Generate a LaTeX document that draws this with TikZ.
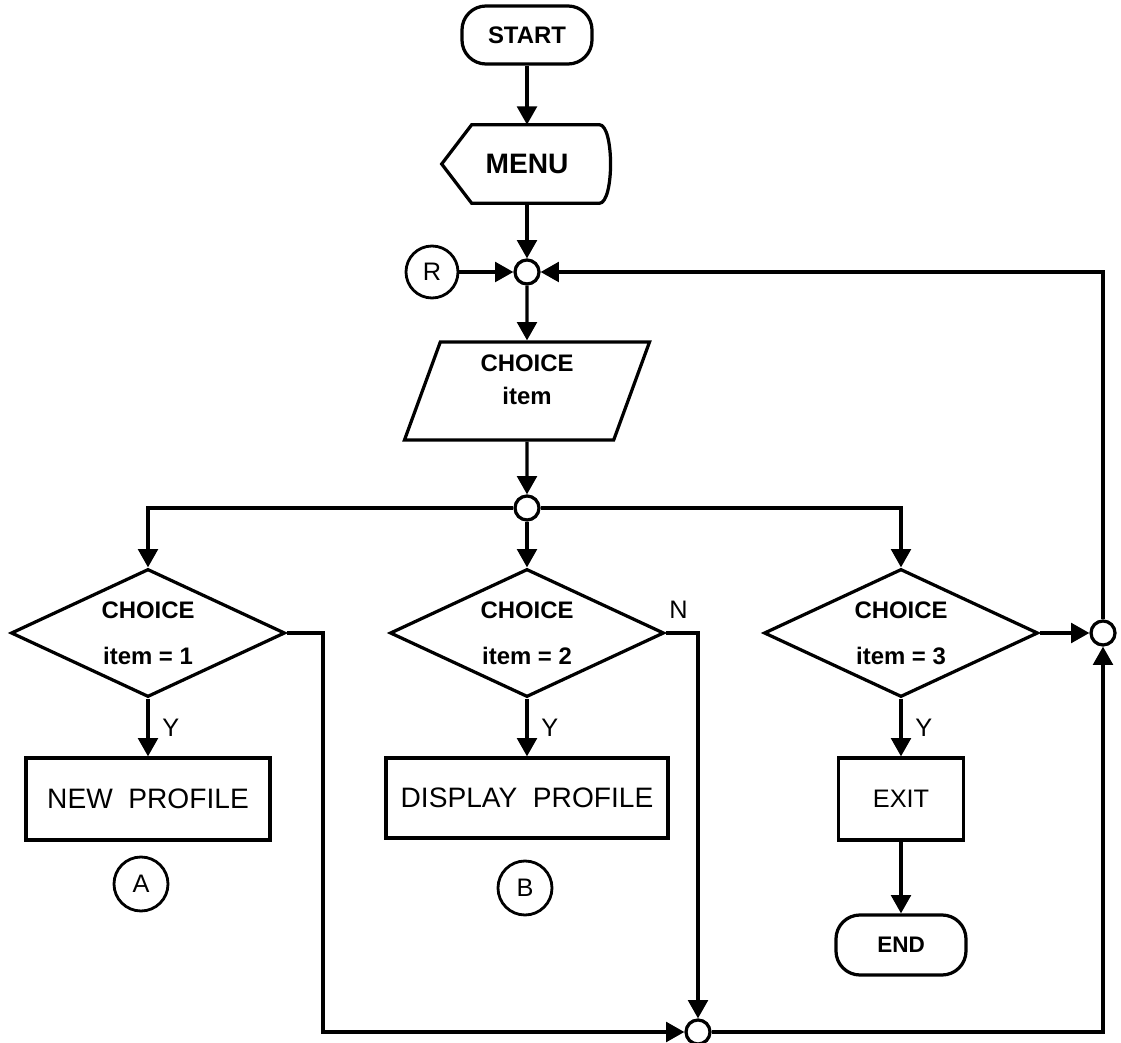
\documentclass[tikz,border=0pt]{standalone}
\usepackage{fontspec}
\setmainfont{Liberation Sans}
\usetikzlibrary{arrows.meta,positioning,shapes.geometric,calc}

\tikzset{
  flow/.style={line width=2.3pt},
  arr/.style={flow,-{Triangle[length=13pt,width=14pt]}},
  terminal/.style={draw,flow,rounded corners=0.6cm,minimum width=3.25cm,
    minimum height=1.45cm,font=\bfseries\fontsize{17}{20}\selectfont},
  procbox/.style={draw,flow,minimum height=2.05cm,font=\fontsize{20}{24}\selectfont},
  decision/.style={draw,flow,diamond,aspect=2.1,inner sep=0pt,minimum width=6.85cm,
    minimum height=3.2cm,align=center,font=\bfseries\fontsize{17}{33}\selectfont},
  joint/.style={draw,flow,circle,inner sep=0pt,minimum size=0.6cm},
  conn/.style={draw,line width=2pt,circle,inner sep=0pt,minimum size=1.35cm,
    font=\fontsize{18}{20}\selectfont},
  yn/.style={font=\fontsize{18}{20}\selectfont}
}

\begin{document}
\begin{tikzpicture}[x=0.025cm,y=-0.025cm]
  \useasboundingbox (0,0) rectangle (1121,1043);

  % main column
  \node[terminal] (start) at (527,35) {START};
  \node[minimum width=4.25cm,minimum height=1.95cm,
    font=\bfseries\fontsize{20}{24}\selectfont] (menu) at (527,164) {MENU};
  \draw[flow] (menu.west) -- ($(menu.north west)+(30,0)$)
    -- ($(menu.north east)+(-13,0)$)
    .. controls ($(menu.north east)+(2,0)$) and ($(menu.south east)+(2,0)$)
    .. ($(menu.south east)+(-13,0)$) -- ($(menu.south west)+(30,0)$) -- cycle;
  \node[joint] (j1) at (527,272) {};
  \node[conn,minimum size=1.3cm] (rconn) at (432,272) {R};
  \node[trapezium,trapezium left angle=65,trapezium right angle=115,
    trapezium stretches body,draw,flow,
    minimum width=6.125cm,minimum height=2.45cm,
    font=\bfseries\fontsize{17}{24}\selectfont] (choice) at (527,391)
    {\raisebox{7pt}[\height][\depth]{\begin{tabular}{@{}c@{}}CHOICE\\item\end{tabular}}};
  \node[joint] (j2) at (527,508) {};

  % decisions
  \node[decision] (d1) at (148,633) {CHOICE\\item = 1};
  \node[decision] (d2) at (527,633) {CHOICE\\item = 2};
  \node[decision] (d3) at (901,633) {CHOICE\\item = 3};

  % actions
  \node[procbox,minimum width=6.1cm] (newp) at (148,799) {NEW\ \ PROFILE};
  \node[procbox,minimum width=7.05cm,minimum height=2cm] (disp) at (527,798) {DISPLAY\ \ PROFILE};
  \node[procbox,minimum width=3.125cm,font=\fontsize{18}{22}\selectfont] (exit) at (901,799) {EXIT};
  \node[terminal,minimum height=1.5cm,font=\bfseries\fontsize{16}{20}\selectfont] (endn) at (901,945) {END};
  \node[conn] (aconn) at (141,884) {A};
  \node[conn] (bconn) at (525,888) {B};

  % return junctions
  \node[joint] (j3) at (698,1032) {};
  \node[joint] (j4) at (1103,633) {};
  \coordinate (bus1) at (323,1032);
  \coordinate (bus2) at (1103,1032);
  \coordinate (bus3) at (1103,272);

  \draw[arr] (start) -- (menu);
  \draw[arr] (menu) -- (j1);
  \draw[arr] (rconn) -- (j1);
  \draw[arr] (j1) -- (choice);
  \draw[arr] (choice) -- (j2);
  \draw[arr] (j2) -| (d1);
  \draw[arr] (j2) -- (d2);
  \draw[arr] (j2) -| (d3);

  \draw[arr] (d1) -- node[yn,right=0.2cm] {Y} (newp);
  \draw[arr] (d2) -- node[yn,right=0.2cm] {Y} (disp);
  \draw[arr] (d3) -- node[yn,right=0.2cm] {Y} (exit);
  \draw[arr] (exit) -- (endn);

  \draw[arr] (d1.east) -| (bus1) -- (j3);
  \draw[arr] (d2.east) -| node[yn,pos=0.2,above=6pt] {N} (j3);
  \draw[arr] (j3) -- (bus2) -- (j4);
  \draw[arr] (d3) -- (j4);
  \draw[arr] (j4) -- (bus3) -- (j1);
\end{tikzpicture}
\end{document}
